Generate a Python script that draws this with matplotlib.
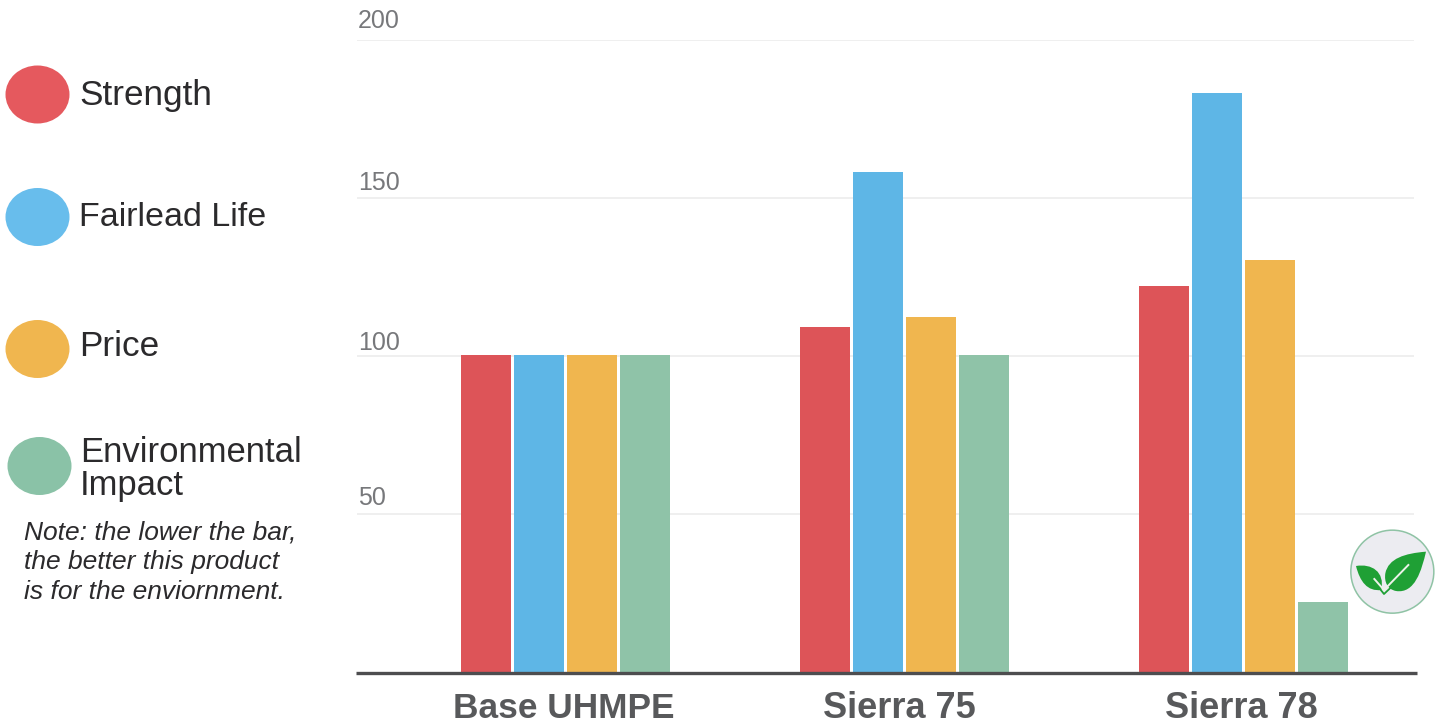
import numpy as np
import matplotlib
matplotlib.use("Agg")
import matplotlib.pyplot as plt
from matplotlib.patches import Ellipse, Circle, PathPatch
from matplotlib.path import Path

plt.rcParams['font.family'] = ['Liberation Sans', 'DejaVu Sans']

products = ["Base UHMPE", "Sierra 75", "Sierra 78"]
strength = [100.3, 109.3, 122.2]
fairlead = [100.3, 158.3, 183.2]
price = [100.3, 112.3, 130.3]
environment = [100.3, 100.3, 22.3]
y_ticks = [50, 100, 150, 200]
legend_names = ["Strength", "Fairlead Life", "Price", "Environmental\nImpact"]
note = "Note: the lower the bar,\nthe better this product\nis for the enviornment."

red = "#dd5458"
blue = "#5eb6e6"
orange = "#f0b64f"
green = "#8fc3a8"

W, H = 1436, 724
fig = plt.figure(figsize=(W / 100, H / 100), dpi=100)

# plot area in pixels: x 357-1414, y 0 at 672, 3.16 px per unit
left, right, base, top = 357, 1414, 672, 40
ax = fig.add_axes([left / W, 1 - base / H, (right - left) / W, (base - top) / H])
step = 338.5
ax.set_xlim((left - 566) / step, (right - 566) / step)
ax.set_ylim(0, 200)

x = np.arange(len(products)) + np.array([-0.0012, 0, 0])
bar_w = 50 / step
gap = 53 / step
for i, (vals, col) in enumerate(zip([strength, fairlead, price, environment],
                                    [red, blue, orange, green])):
    ax.bar(x + (i - 1.5) * gap, vals, width=bar_w, color=col, zorder=3)

for t in y_ticks:
    ax.axhline(t, color="#ebebeb", lw=1.1, zorder=1)
for s in ax.spines.values():
    s.set_visible(False)
ax.set_yticks([])
ax.set_xticks([])
ax.patch.set_alpha(0)

# overlay in pixel coordinates for legend, tick text, baseline, badge
ov = fig.add_axes([0, 0, 1, 1])
ov.set_xlim(0, W)
ov.set_ylim(H, 0)
ov.axis("off")
ov.patch.set_alpha(0)

ov.plot([356, 1417], [672.5, 672.5], color="#4d4d4f", lw=2.4, solid_capstyle="butt", zorder=5)

for name, xp, fs in zip(products, [564, 899, 1241.5], [25.4, 26, 26]):
    ov.text(xp, 708, name, fontsize=fs, fontweight="bold", color="#58595b", ha="center", va="center")

for t, yp in zip(y_ticks, [498, 343, 183, 21]):
    ov.text(358, yp, str(t), fontsize=18, color="#77787b", ha="left", va="center")

circles = [(37.5, 94.5, "#e5595e"), (37.5, 217, "#68bdec"), (37.5, 349, "#f0b64f"), (39.5, 466, "#8ac2a7")]
for (cx, cy, col) in circles:
    ov.add_patch(Ellipse((cx, cy), 64, 58, color=col, lw=0))

text_col = "#2b2a2c"
ov.text(79, 95, legend_names[0], fontsize=25.3, color=text_col, va="center")
ov.text(79, 217, legend_names[1], fontsize=24.5, color=text_col, va="center")
ov.text(79, 346, legend_names[2], fontsize=25.3, color=text_col, va="center")
ov.text(80, 469, legend_names[3], fontsize=24.9, color=text_col, va="center", linespacing=1.0)
ov.text(24, 562, note, fontsize=19, style="italic", color=text_col, va="center", linespacing=1.3)

# leaf badge
def z(px, py):
    return (1280 + px / 3, 510 + py / 3)

def blob(pts, col, zo=6):
    verts = [z(*p) for p in pts]
    codes = [Path.MOVETO] + [Path.CURVE4] * (len(verts) - 1)
    ov.add_patch(PathPatch(Path(verts, codes), fc=col, ec="none", zorder=zo))

ov.add_patch(Circle(z(337, 185), 41.5, fc="#ececf1", ec="#8fc3a5", lw=1.1, zorder=6))
blob([(438, 125), (375, 130), (325, 145), (316, 190), (312, 215), (322, 238), (348, 243),
      (405, 252), (425, 180), (438, 125)], "#1fa035", 7)
blob([(228, 168), (275, 160), (315, 185), (304, 240), (262, 245), (240, 215), (228, 168)], "#1fa035", 7)
ov.plot(*zip(z(283, 207), z(312, 240), z(385, 165)), color="#eef2ea", lw=1.4, zorder=8)
ov.plot(*zip(z(296, 232), z(312, 252), z(330, 235)), color="#1fa035", lw=1.3, zorder=7)

fig.savefig("out.png", dpi=100)
